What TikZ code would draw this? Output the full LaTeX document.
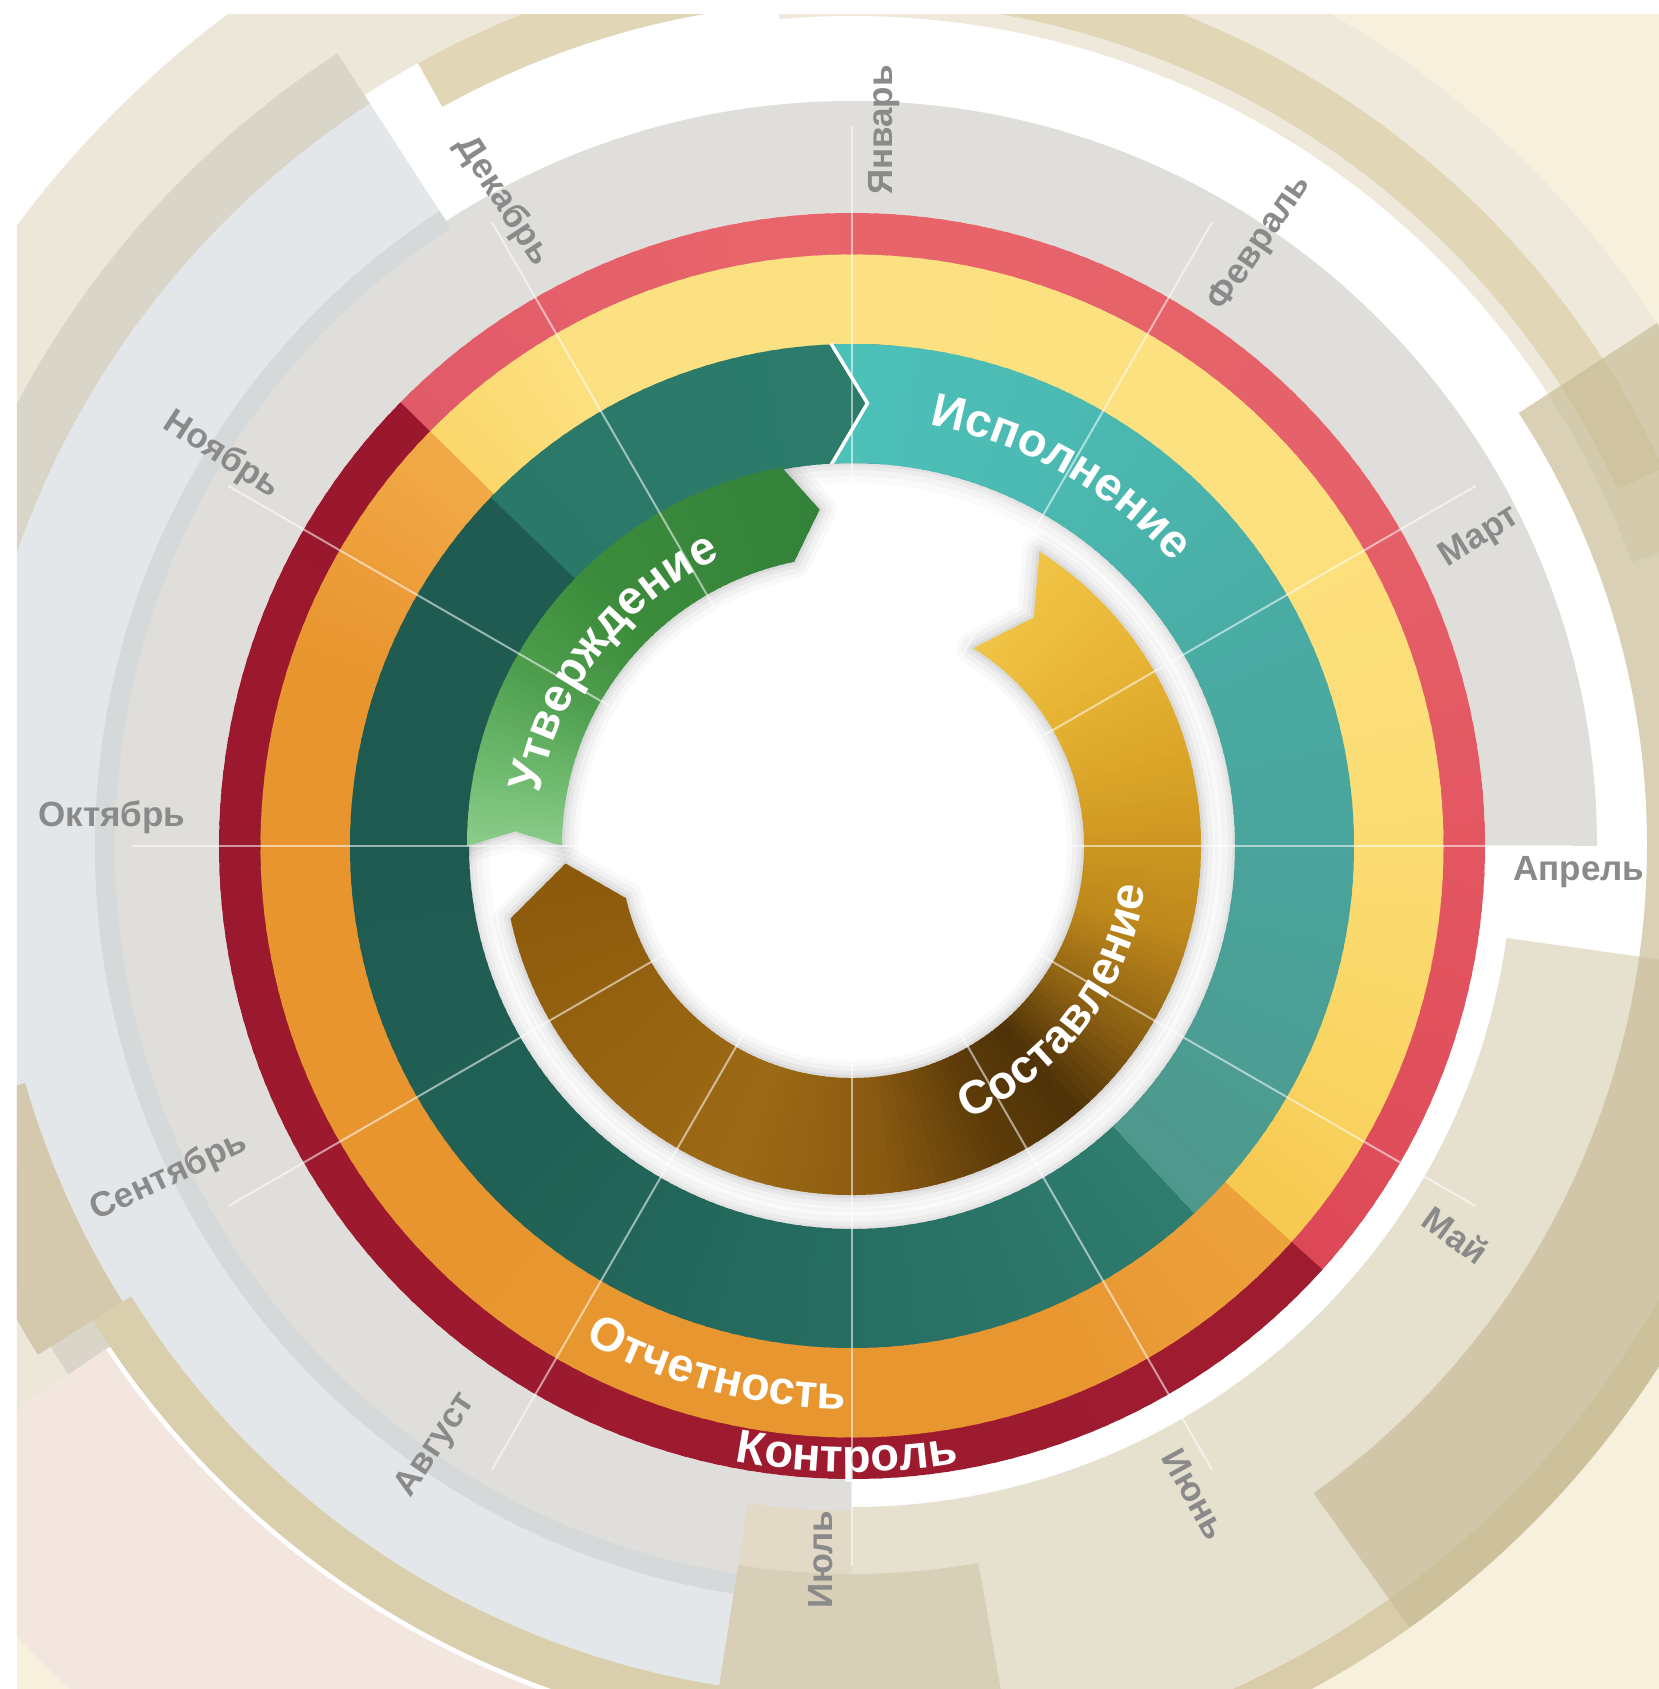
\documentclass[tikz,border=0pt]{standalone}
\usepackage{fontspec}
\setmainfont{Liberation Sans}
\usetikzlibrary{decorations.text}

\definecolor{bgBeigeA}{HTML}{EDE7D9}
\definecolor{bgTanGray}{HTML}{D9D5C9}
\definecolor{bgPink}{HTML}{F3E6DF}
\definecolor{bgCream}{HTML}{F6F0DD}
\definecolor{bgBlue}{HTML}{E3E7EA}
\definecolor{bgTanStrip}{HTML}{D9CFAD}
\definecolor{bgDot}{HTML}{D5C9AD}
\definecolor{bgTopTan}{HTML}{E1D6B6}
\definecolor{bgBeigeB}{HTML}{EFE9DC}
\definecolor{bgBeigeC}{HTML}{E6E0CF}
\definecolor{bgTanR}{HTML}{D8CDA8}
\definecolor{bgTanT}{HTML}{C9BD98}
\definecolor{bgJul}{HTML}{E2DAC6}
\definecolor{bgJulDot}{HTML}{D8CFB9}
\definecolor{bgGray}{HTML}{E0DEDA}
\definecolor{bgRing}{HTML}{D5D9DA}
\definecolor{monthgray}{HTML}{8A8A8A}
% red
\definecolor{rA}{HTML}{E05A68}\definecolor{rB}{HTML}{E8656B}\definecolor{rC}{HTML}{E6626A}
\definecolor{rD}{HTML}{E2545F}\definecolor{rE}{HTML}{DD4857}
\definecolor{drA}{HTML}{9E1B30}\definecolor{drB}{HTML}{9A182D}
% yellow / orange
\definecolor{yA}{HTML}{FBD76B}\definecolor{yB}{HTML}{FCE183}\definecolor{yC}{HTML}{FCE180}
\definecolor{yD}{HTML}{FBDC73}\definecolor{yE}{HTML}{F9D462}\definecolor{yF}{HTML}{F6C84F}
\definecolor{oA}{HTML}{EDA13C}\definecolor{oB}{HTML}{E8962F}\definecolor{oC}{HTML}{E8952F}
\definecolor{oD}{HTML}{F2AA48}
% teal
\definecolor{tA}{HTML}{4DC2BA}\definecolor{tB}{HTML}{4BB9B1}\definecolor{tC}{HTML}{49ABA3}
\definecolor{tD}{HTML}{4AA299}\definecolor{tE}{HTML}{4E978C}
\definecolor{dA}{HTML}{2F7D6F}\definecolor{dB}{HTML}{266E61}\definecolor{dC}{HTML}{216155}
\definecolor{dD}{HTML}{1F5A50}\definecolor{dE}{HTML}{1F5B51}\definecolor{dF}{HTML}{2A7868}
\definecolor{dG}{HTML}{2C7C6C}
% green
\definecolor{gA}{HTML}{94D294}\definecolor{gB}{HTML}{6FBA6F}\definecolor{gC}{HTML}{4E9E4E}
\definecolor{gD}{HTML}{3C8C3C}\definecolor{gE}{HTML}{33803A}
% brown
\definecolor{sA}{HTML}{F2C84A}\definecolor{sB}{HTML}{E8B535}\definecolor{sC}{HTML}{D6A026}
\definecolor{sD}{HTML}{BE881C}\definecolor{sE}{HTML}{8A5E12}\definecolor{sF}{HTML}{4E3208}
\definecolor{sG}{HTML}{5E3D09}\definecolor{sH}{HTML}{8A5A10}\definecolor{sI}{HTML}{9C6A16}
\definecolor{sJ}{HTML}{93600F}\definecolor{sK}{HTML}{8A580C}

\newcommand\sectfill[5][]{\fill[#1] (#4:#2) arc[start angle=#4,end angle=#5,radius=#2] -- (#5:#3) arc[start angle=#5,end angle=#4,radius=#3] -- cycle;}

\newcommand\gradsec[6]{%
  \pgfmathtruncatemacro\gN{max(2,round(abs(#4-#3)/1.5))}%
  \pgfmathsetmacro\gS{(#4-#3)/\gN}%
  \pgfmathsetmacro\gO{0.5*(#4-#3)/abs(#4-#3)}%
  \foreach \i in {1,...,\gN}{%
    \pgfmathsetmacro\gA{#3+(\i-1)*\gS}%
    \pgfmathsetmacro\gB{#3+\i*\gS+\gO}%
    \pgfmathtruncatemacro\gP{100*(\i-0.5)/\gN}%
    \fill[#6!\gP!#5] (\gA:#1) arc[start angle=\gA,end angle=\gB,radius=#1] -- (\gB:#2) arc[start angle=\gB,end angle=\gA,radius=#2] -- cycle;%
  }}

\newcommand\biglab{\fontsize{47}{50}\selectfont\bfseries\color{white}}
\newcommand\arclabel[4]{%
  \path[decorate, decoration={text along path, text align=center, text={|\biglab|#4}}] (#2:#1) arc[start angle=#2,end angle=#3,radius=#1];}

\def\pSost{(57.5:349) arc[start angle=57.5,end angle=-168,radius=349] -- (-176.5:287) -- (-167:232) arc[start angle=-167,end angle=58.5,radius=232] -- (51.5:292) -- cycle}
\def\pUtv{(180:385) arc[start angle=180,end angle=100.5,radius=385] -- (95.5:338) -- (101.5:290) arc[start angle=101.5,end angle=180,radius=290] -- (177.5:337) -- cycle}
\def\pIsp{(92.5:502) arc[start angle=92.5,end angle=-47,radius=502] -- (-47:383) arc[start angle=-47,end angle=93,radius=383] -- (88:443) -- cycle}

\tikzset{month/.style={text=monthgray, font=\fontsize{35}{40}\selectfont\bfseries, inner sep=0pt}}

\begin{document}
\begin{tikzpicture}[x=1pt,y=1pt]
\useasboundingbox (-852,-843) rectangle (807,846);
\fill[white] (-852,-843) rectangle (807,846);

% ---------------- background decorations ----------------
\begin{scope}
\clip (-835,-843) rectangle (807,831);
% upper left / left
\sectfill[bgBeigeA]{895}{1040}{95}{214}
\sectfill[bgTanGray]{885}{945}{123}{214}
\sectfill[bgPink]{900}{1150}{214}{262}
\sectfill[bgCream]{1150}{1500}{214}{262}
\sectfill[bgBlue]{745}{885}{123}{261}
\sectfill[bgTanStrip]{850}{895}{212}{262}
\sectfill[bgDot]{860}{960}{196}{212}
% top
\sectfill[bgBeigeB]{830}{1500}{20}{95}
\sectfill[bgTopTan]{845}{895}{25}{119}
% right / bottom right
\sectfill[bgBeigeC]{661}{960}{-90}{-8}
\sectfill[bgCream]{960}{1500}{-95}{60}
\sectfill[bgTanR]{925}{960}{-100}{20}
\sectfill[bgTanT,opacity=0.7]{795}{960}{-54.5}{33}
% month band
\sectfill[bgGray]{633}{745}{0}{270}
\sectfill[bgRing]{737}{757}{123}{261}
% July pieces
\sectfill[bgJul]{665}{745}{261}{270}
\sectfill[bgJulDot]{728}{1000}{261}{280}
\end{scope}

% ---------------- outer rings ----------------
% red ring
\gradsec{590}{633}{136}{100}{rA}{rB}
\gradsec{590}{633}{100}{40}{rB}{rC}
\gradsec{590}{633}{40}{-10}{rC}{rD}
\gradsec{590}{633}{-10}{-42}{rD}{rE}
\gradsec{590}{633}{-42}{-224}{drA}{drB}
% yellow / orange ring
\gradsec{501}{591.5}{136}{118}{yA}{yB}
\gradsec{501}{591.5}{118}{40}{yB}{yC}
\gradsec{501}{591.5}{40}{0}{yC}{yD}
\gradsec{501}{591.5}{0}{-25}{yD}{yE}
\gradsec{501}{591.5}{-25}{-42}{yE}{yF}
\gradsec{501}{591.5}{-42}{-70}{oA}{oB}
\gradsec{501}{591.5}{-70}{-200}{oB}{oC}
\gradsec{501}{591.5}{-200}{-224}{oC}{oD}
% dark teal ring
\gradsec{383}{502}{-47}{-90}{dA}{dB}
\gradsec{383}{502}{-90}{-135}{dB}{dC}
\gradsec{383}{502}{-135}{-180}{dC}{dD}
\gradsec{383}{502}{-180}{-224}{dD}{dE}
\gradsec{383}{502}{-224}{-274}{dF}{dG}
% light teal (Исполнение) with notched tail
\begin{scope}
\clip \pIsp;
\gradsec{378}{507}{96}{60}{tA}{tB}
\gradsec{378}{507}{60}{25}{tB}{tC}
\gradsec{378}{507}{25}{-10}{tC}{tD}
\gradsec{378}{507}{-10}{-48}{tD}{tE}
\end{scope}
\draw[white, line width=3.5, line join=miter] (92.4:503) -- (88:443) -- (93.1:382);

% ---------------- inner disk shadows ----------------
\begin{scope}
\clip (0,0) circle[radius=383];
\foreach \w/\o in {40/0.02,26/0.025,14/0.03,6/0.035}{
  \draw[black, opacity=\o, line width=\w] (0,0) circle[radius=383];}
\foreach \w/\o in {34/0.025,24/0.03,14/0.04,6/0.05}{
  \draw[black, opacity=\o, line width=\w, line join=round] \pSost;
  \draw[black, opacity=\o, line width=\w, line join=round] \pUtv;}
\end{scope}

% ---------------- Составление ----------------
\begin{scope}
\clip \pSost;
\gradsec{225}{355}{62}{35}{sA}{sB}
\gradsec{225}{355}{35}{10}{sB}{sC}
\gradsec{225}{355}{10}{-15}{sC}{sD}
\gradsec{225}{355}{-15}{-35}{sD}{sE}
\gradsec{225}{355}{-35}{-50}{sE}{sF}
\gradsec{225}{355}{-50}{-65}{sF}{sG}
\gradsec{225}{355}{-65}{-85}{sG}{sH}
\gradsec{225}{355}{-85}{-110}{sH}{sI}
\gradsec{225}{355}{-110}{-150}{sI}{sJ}
\gradsec{225}{355}{-150}{-182}{sJ}{sK}
\end{scope}

% ---------------- Утверждение ----------------
\begin{scope}
\clip \pUtv;
\gradsec{285}{390}{184}{168}{gA}{gB}
\gradsec{285}{390}{168}{152}{gB}{gC}
\gradsec{285}{390}{152}{135}{gC}{gD}
\gradsec{285}{390}{135}{92}{gD}{gE}
\end{scope}

% ---------------- month lines ----------------
\foreach \a in {0,30,...,330}{
  \draw[white, opacity=0.55, line width=2] (0,0) -- (\a:720);}

% ---------------- stage labels ----------------
\arclabel{428}{90.5}{30.5}{Исполнение}
\arclabel{316}{182.5}{102.5}{Утверждение}
\arclabel{296}{-77.5}{2.5}{Составление}
\arclabel{563}{-124.5}{-84.5}{Отчетность}
\arclabel{626}{-110.5}{-70.5}{Контроль}

% ---------------- month labels ----------------
\node[month, rotate=90]  (jan) at (32,716)    {Январь};
\node[month, rotate=56]  (feb) at (408,603)   {Февраль};
\node[month, rotate=32]  (mar) at (628,309)   {Март};
\node[month, rotate=0]   (apr) at (727,-26)   {Апрель};
\node[month, rotate=-36] (may) at (604,-389)  {Май};
\node[month, rotate=-61] (jun) at (343,-648)  {Июнь};
\node[month, rotate=90]  (jul) at (-31,-714)  {Июль};
\node[month, rotate=56]  (aug) at (-416,-599) {Август};
\node[month, rotate=25]  (sep) at (-683,-331) {Сентябрь};
\node[month, rotate=0]   (oct) at (-740,29)   {Октябрь};
\node[month, rotate=-33] (nov) at (-630,391)  {Ноябрь};
\node[month, rotate=-57] (dec) at (-349,645)  {Декабрь};
\end{tikzpicture}
\end{document}
